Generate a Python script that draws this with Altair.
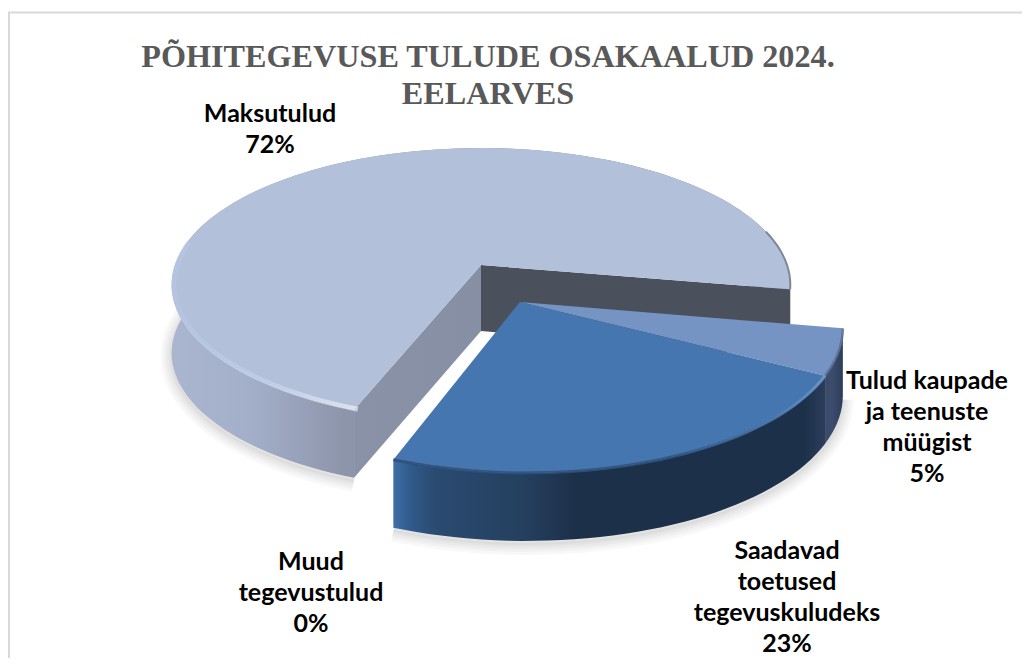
import math
import altair as alt

TITLE_LINES = ["PÕHITEGEVUSE TULUDE OSAKAALUD 2024.", "EELARVES"]
NAMES = ["Maksutulud", "Tulud kaupade\nja teenuste\nmüügist", "Saadavad\ntoetused\ntegevuskuludeks", "Muud\ntegevustulud"]
SHARES = [0.72, 0.05, 0.23, 0.0]
LABEL_X = [270, 927, 787, 311]
LABEL_Y = [102, 369, 539, 550]

# perspective model of the pie plane (reference pixels)
CX, CY, RX, RY, K = 481.0, 265.0, 306.0, 134.0, 0.146
DEPTH = 68.0
EXPLODE = (0.122, 0.265)


def pt(a, off=(0, 0), r=1.0, dy=0.0):
    u = r * math.cos(math.radians(a)) + off[0]
    v = r * math.sin(math.radians(a)) + off[1]
    w = 1 - K * v
    return [CX + RX * u / w, CY + RY * v / w + dy]


def arc(a0, a1, off=(0, 0), r=1.0, dy=0.0):
    n = max(2, int(abs(a1 - a0) / 2) + 1)
    return [pt(a0 + (a1 - a0) * i / (n - 1), off, r, dy) for i in range(n)]


def poly(points):
    return {"type": "Feature", "properties": {},
            "geometry": {"type": "Polygon", "coordinates": [points + [points[0]]]}}


def line(points):
    return {"type": "Feature", "properties": {},
            "geometry": {"type": "LineString", "coordinates": points}}


PROJ = dict(type="identity", scale=1, translate=[-8, -8])


def shape(feature, **mark):
    return alt.Chart(alt.Data(values=[feature])).mark_geoshape(**mark).project(**PROJ)


def grad(stops, x1=0, x2=1, y1=0, y2=0):
    return alt.Gradient(gradient="linear", x1=x1, x2=x2, y1=y1, y2=y2,
                        stops=[alt.GradientStop(offset=o, color=c) for o, c in stops])


# slice angles from the shares
a_main0 = 111.0
a_main1 = a_main0 + SHARES[0] * 360
a_small1 = a_main1 + SHARES[1] * 360
a_big1 = a_small1 + SHARES[2] * 360

layers = []

# frame
layers.append(shape(line([[9, 666], [9, 12.5], [1030, 12.5]]),
                    filled=False, stroke="#d9d9d9", strokeWidth=2))

# soft shadows
sh_main = arc(a_main0, 205, (0, 0), 1.0, DEPTH + 3)
sh_blue = arc(a_main1 - 360, a_big1 - 360, EXPLODE, 1.0, DEPTH + 3)
for sw in (22, 16, 11, 6, 2):
    layers.append(shape(line(sh_main), filled=False, stroke="#000000", strokeOpacity=0.028, strokeWidth=sw))
    layers.append(shape(line(sh_blue), filled=False, stroke="#000000", strokeOpacity=0.028, strokeWidth=sw))

# main slice: wall, cut faces, top
top = arc(a_main0, a_main1)
bot = arc(a_main0, a_main1, dy=DEPTH)
layers.append(shape(poly(top + bot[::-1]), stroke=None,
                    fill=grad([(0, "#aab6d0"), (0.12, "#a4b0ca"), (0.28, "#8d95ab"), (0.5, "#8d95ab"), (1, "#6c7484")])))
apex = [CX, CY]
apex_b = [CX, CY + DEPTH - 2]
layers.append(shape(poly([apex, top[-1], bot[-1], apex_b]), fill="#4a505c", stroke=None))
layers.append(shape(poly([apex, top[0], bot[0], apex_b]),
                    fill=grad([(0, "#8a92a7"), (1, "#878fa4")]), stroke=None))
layers.append(shape(poly([apex] + top), fill="#b2c0da", stroke=None))
# rim bevel of main slice
layers.append(shape(line(arc(a_main0 - 0.5, 190, r=0.993)), filled=False, strokeWidth=5, strokeOpacity=0.55,
                    stroke=grad([(0, "#ffffff"), (0.5, "#c8d6f2"), (1, "#b7c6e4")], x1=1, x2=0)))
layers.append(shape(line(arc(345, a_main1 + 0.0, r=1.0)), filled=False, strokeWidth=2, stroke="#7f8798"))

# exploded slices: walls
small_top = arc(a_main1 - 360, a_small1 - 360, EXPLODE)
small_bot = arc(a_main1 - 360, a_small1 - 360, EXPLODE, dy=DEPTH)
big_top = arc(a_small1 - 360, a_big1 - 360, EXPLODE)
big_bot = arc(a_small1 - 360, a_big1 - 360, EXPLODE, dy=DEPTH)
layers.append(shape(poly(small_top + small_bot[::-1]),
                    fill=grad([(0, "#2c3d5c"), (0.6, "#3c4c6c"), (1, "#3a4a68")], x1=1, x2=0), stroke=None))
layers.append(shape(poly(big_top + big_bot[::-1]), stroke=None,
                    fill=grad([(0, "#3f6fa9"), (0.04, "#305a8a"), (0.1, "#2a4a70"), (0.3, "#24405f"), (0.42, "#1d3049"), (0.95, "#1d3049"), (1, "#2b3d5b")])))

# exploded slices: tops
ex_apex = pt(0, EXPLODE, r=0.0)
layers.append(shape(poly([ex_apex] + small_top), fill="#7694c3", stroke=None))
layers.append(shape(poly([ex_apex] + big_top), fill="#4676b0", stroke=None))
# rim of exploded slices
layers.append(shape(line(arc(a_main1 - 360, a_small1 - 360, EXPLODE, r=1.0)), filled=False, strokeWidth=2.5,
                    stroke="#5a6d92", strokeOpacity=0.8))
layers.append(shape(line(arc(a_small1 - 360, a_big1 - 360, EXPLODE, r=1.0)), filled=False, strokeWidth=3,
                    stroke=grad([(0, "#6f9bd0"), (0.12, "#4a78b0"), (0.35, "#2e5380"), (1, "#2c4d78")], x1=1, x2=0),
                    strokeOpacity=0.85))

# labels
rows = [{"lon": x, "lat": y, "t": f"{n}\n{round(s * 100)}%"}
        for n, s, x, y in zip(NAMES, SHARES, LABEL_X, LABEL_Y)]
labels = alt.Chart(alt.Data(values=rows)).mark_text(
    font="Lato", fontWeight="bold", fontSize=25, color="#000000", lineBreak="\n",
    lineHeight=31, align="center", baseline="top",
).encode(longitude="lon:Q", latitude="lat:Q", text="t:N").project(**PROJ)
layers.append(labels)

chart = alt.layer(*layers).properties(
    width=1014, height=650,
    padding=0,
    autosize=alt.AutoSizeParams(type="none"),
    title=alt.TitleParams(text=TITLE_LINES, anchor="middle", frame="group", font="Liberation Serif",
                          fontWeight="bold", fontSize=32.2, color="#595959", lineHeight=37,
                          dx=-27, dy=135, baseline="bottom", offset=0),
).configure_view(stroke=None).configure(background="white")

chart.save("out.html", embed_options={"renderer": "svg", "actions": False})
